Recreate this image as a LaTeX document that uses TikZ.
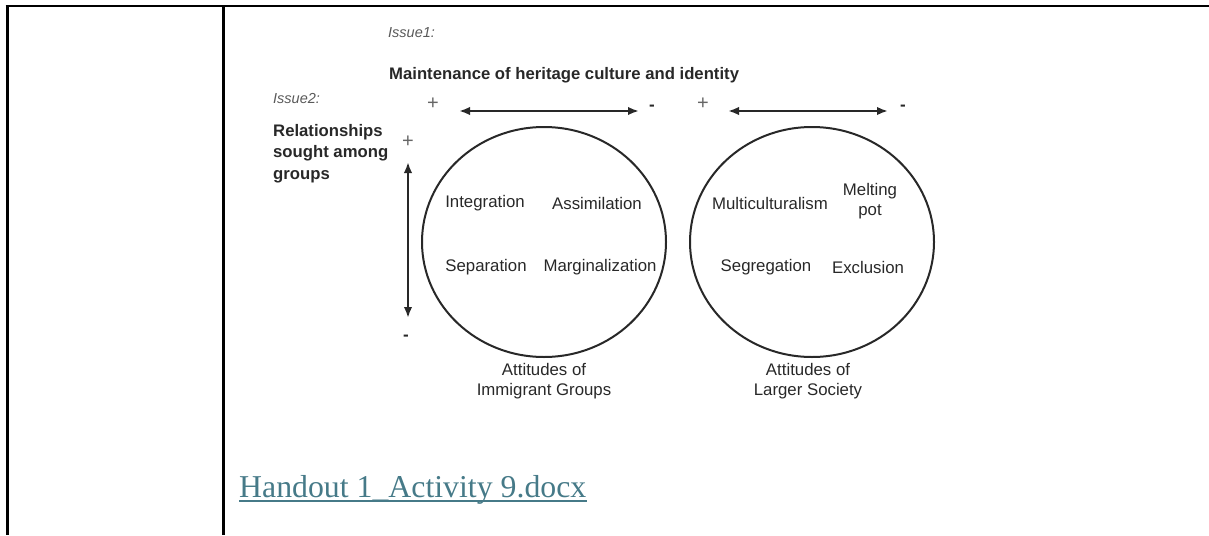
\documentclass[tikz,border=0pt]{standalone}
\usepackage{fontspec}
\setmainfont{Liberation Sans}
\newfontfamily\tnrfont{Liberation Serif}
\usetikzlibrary{shapes.geometric,arrows.meta}
\definecolor{ink}{RGB}{40,40,40}
\definecolor{linkteal}{RGB}{70,122,136}
\tikzset{
  frame/.style={line width=2.4pt,black},
  lbl/.style={inner sep=0pt,text=ink,font=\fontsize{16.8}{20}\selectfont},
  blbl/.style={inner sep=0pt,text=ink,font=\fontsize{16.7}{21.5}\selectfont\bfseries},
  ilbl/.style={inner sep=0pt,text=black!65,font=\fontsize{14.5}{17}\selectfont\itshape},
  plus/.style={inner sep=0pt,text=black!60,font=\fontsize{20}{20}\selectfont},
  minus/.style={inner sep=0pt,text=ink,font=\fontsize{17}{17}\selectfont\bfseries},
  ring/.style={ellipse,draw=ink,line width=2pt,minimum width=244pt,minimum height=230pt,inner sep=0pt},
  dbl/.style={draw=ink,line width=2.3pt,{Latex[length=11pt,width=8.5pt]}-{Latex[length=11pt,width=8.5pt]}}
}
\begin{document}
\begin{tikzpicture}[x=1pt,y=-1pt]
\useasboundingbox (0,0) rectangle (1209,535);
% table frame
\draw[frame] (5.5,6) -- (1209,6);
\draw[frame] (7.3,6) -- (7.3,535);
\draw[frame] (223.5,6) -- (223.5,535);
% headings
\node[ilbl,anchor=west] (iss1) at (388,33) {Issue1:};
\node[blbl,anchor=west] (maint) at (389,75) {Maintenance of heritage culture and identity};
\node[ilbl,anchor=west] (iss2) at (273,99) {Issue2:};
\node[blbl,anchor=north west,align=left] (rel) at (273,124) {Relationships\\sought among\\groups};
% horizontal axes
\node[plus] (p1) at (433,104) {+};
\coordinate (a1l) at (459,111);
\coordinate (a1r) at (639,111);
\draw[dbl] (a1l) -- (a1r);
\node[minus] (m1) at (652,108) {-};
\node[plus] (p2) at (703,104) {+};
\coordinate (a2l) at (728,111);
\coordinate (a2r) at (888,111);
\draw[dbl] (a2l) -- (a2r);
\node[minus] (m2) at (903,108) {-};
% vertical axis
\node[plus] (p3) at (408,142) {+};
\coordinate (vt) at (408,162);
\coordinate (vb) at (408,318);
\draw[dbl] (vt) -- (vb);
\node[minus] (m3) at (406,338) {-};
% circles
\node[ring] (c1) at (544,242) {};
\node[ring] (c2) at (812,242) {};
% left circle contents
\node[lbl] (integ) at (485,203) {Integration};
\node[lbl] (assim) at (597,203) {Assimilation};
\node[lbl] (separ) at (486,267) {Separation};
\node[lbl] (margi) at (600,267) {Marginalization};
% right circle contents
\node[lbl] (multi) at (770,203) {Multiculturalism};
\node[lbl,align=center] (melt) at (870,201) {Melting\\pot};
\node[lbl] (segr) at (766,267) {Segregation};
\node[lbl] (excl) at (868,267) {Exclusion};
% captions
\node[lbl,align=center,anchor=north] (cap1) at (544,363) {Attitudes of\\Immigrant Groups};
\node[lbl,align=center,anchor=north] (cap2) at (808,363) {Attitudes of\\Larger Society};
% link
\node[inner sep=0pt,anchor=base west,text=linkteal,font=\tnrfont\fontsize{31.8}{34}\selectfont] (link) at (239,497) {Handout 1\_Activity 9.docx};
\draw[linkteal,line width=2pt] (link.base west) ++(0,3.5) -- ([yshift=-3.5pt]link.base east);
\end{tikzpicture}
\end{document}
